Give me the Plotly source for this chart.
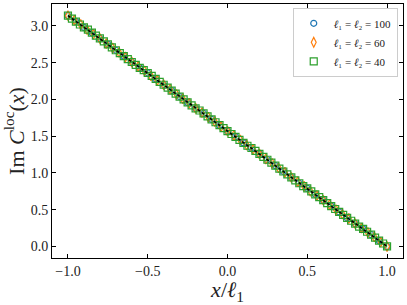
import plotly.graph_objects as go

# l1 = l2 = 100 (blue circles)
x_100 = [-1.0, -0.95, -0.9, -0.85, -0.8, -0.75, -0.7, -0.65, -0.6, -0.55, -0.5, -0.45, -0.4, -0.35,
         -0.3, -0.25, -0.2, -0.15, -0.1, -0.05, 0.0, 0.05, 0.1, 0.15, 0.2, 0.25, 0.3, 0.35, 0.4,
         0.45, 0.5, 0.55, 0.6, 0.65, 0.7, 0.75, 0.8, 0.85, 0.9, 0.95, 1.0]
y_100 = [3.14, 3.06, 2.98, 2.91, 2.83, 2.75, 2.67, 2.59, 2.51, 2.43, 2.36, 2.28, 2.20, 2.12,
         2.04, 1.96, 1.88, 1.81, 1.73, 1.65, 1.57, 1.49, 1.41, 1.34, 1.26, 1.18, 1.10, 1.02, 0.94,
         0.86, 0.79, 0.71, 0.63, 0.55, 0.47, 0.39, 0.31, 0.24, 0.16, 0.08, 0.00]

# l1 = l2 = 60 (orange diamonds)
x_60 = [-1.0, -0.96, -0.92, -0.88, -0.84, -0.8, -0.76, -0.72, -0.68, -0.64, -0.6, -0.56, -0.52,
        -0.48, -0.44, -0.4, -0.36, -0.32, -0.28, -0.24, -0.2, -0.16, -0.12, -0.08, -0.04, 0.0,
        0.04, 0.08, 0.12, 0.16, 0.2, 0.24, 0.28, 0.32, 0.36, 0.4, 0.44, 0.48, 0.52, 0.56, 0.6,
        0.64, 0.68, 0.72, 0.76, 0.8, 0.84, 0.88, 0.92, 0.96, 1.0]
y_60 = [3.14, 3.08, 3.02, 2.95, 2.89, 2.83, 2.76, 2.70, 2.64, 2.58, 2.51, 2.45, 2.39, 2.32,
        2.26, 2.20, 2.14, 2.07, 2.01, 1.95, 1.88, 1.82, 1.76, 1.70, 1.63, 1.57, 1.51, 1.45,
        1.38, 1.32, 1.26, 1.19, 1.13, 1.07, 1.01, 0.94, 0.88, 0.82, 0.75, 0.69, 0.63, 0.57,
        0.50, 0.44, 0.38, 0.31, 0.25, 0.19, 0.13, 0.06, 0.00]

# l1 = l2 = 40 (green squares)
x_40 = [-1.0, -0.975, -0.95, -0.925, -0.9, -0.875, -0.85, -0.825, -0.8, -0.775, -0.75, -0.725,
        -0.7, -0.675, -0.65, -0.625, -0.6, -0.575, -0.55, -0.525, -0.5, -0.475, -0.45, -0.425,
        -0.4, -0.375, -0.35, -0.325, -0.3, -0.275, -0.25, -0.225, -0.2, -0.175, -0.15, -0.125,
        -0.1, -0.075, -0.05, -0.025, 0.0, 0.025, 0.05, 0.075, 0.1, 0.125, 0.15, 0.175, 0.2,
        0.225, 0.25, 0.275, 0.3, 0.325, 0.35, 0.375, 0.4, 0.425, 0.45, 0.475, 0.5, 0.525, 0.55,
        0.575, 0.6, 0.625, 0.65, 0.675, 0.7, 0.725, 0.75, 0.775, 0.8, 0.825, 0.85, 0.875, 0.9,
        0.925, 0.95, 0.975, 1.0]
y_40 = [3.14, 3.10, 3.06, 3.02, 2.98, 2.95, 2.91, 2.87, 2.83, 2.79, 2.75, 2.71, 2.67, 2.63,
        2.59, 2.55, 2.51, 2.47, 2.43, 2.40, 2.36, 2.32, 2.28, 2.24, 2.20, 2.16, 2.12, 2.08,
        2.04, 2.00, 1.96, 1.92, 1.88, 1.85, 1.81, 1.77, 1.73, 1.69, 1.65, 1.61, 1.57, 1.53,
        1.49, 1.45, 1.41, 1.37, 1.34, 1.30, 1.26, 1.22, 1.18, 1.14, 1.10, 1.06, 1.02, 0.98,
        0.94, 0.90, 0.86, 0.82, 0.79, 0.75, 0.71, 0.67, 0.63, 0.59, 0.55, 0.51, 0.47, 0.43,
        0.39, 0.35, 0.31, 0.27, 0.24, 0.20, 0.16, 0.12, 0.08, 0.04, 0.00]

# exact (dashed)
x_exact = [-1.0, 1.0]
y_exact = [3.1416, 0.0]

x_ticks = [-1.0, -0.5, 0.0, 0.5, 1.0]
y_ticks = [0.0, 0.5, 1.0, 1.5, 2.0, 2.5, 3.0]

FONT = "Liberation Serif"

fig = go.Figure()
fig.add_trace(go.Scatter(
    x=x_100, y=y_100, mode="markers", name="<i>ℓ</i>₁ = <i>ℓ</i>₂ = 100",
    marker=dict(symbol="circle-open", size=6, color="#1f77b4", line=dict(width=1.2))))
fig.add_trace(go.Scatter(
    x=x_60, y=y_60, mode="markers", name="<i>ℓ</i>₁ = <i>ℓ</i>₂ = 60",
    marker=dict(symbol="diamond-tall-open", size=7, color="#ff7f0e", line=dict(width=1.2))))
fig.add_trace(go.Scatter(
    x=x_40, y=y_40, mode="markers", name="<i>ℓ</i>₁ = <i>ℓ</i>₂ = 40",
    marker=dict(symbol="square-open", size=7, color="#2ca02c", line=dict(width=1.2))))
fig.add_trace(go.Scatter(
    x=x_exact, y=y_exact, mode="lines", showlegend=False,
    line=dict(color="black", width=1.6, dash="3px,2px")))

axis_common = dict(
    showgrid=False, zeroline=False, showline=True, linecolor="black", linewidth=1,
    mirror="ticks", ticks="inside", ticklen=4, tickwidth=1, tickcolor="black",
    tickfont=dict(family=FONT, size=14, color="#222"), automargin=False,
)
fig.update_xaxes(range=[-1.1, 1.1], tickvals=x_ticks, ticktext=["−1.0", "−0.5", "0.0", "0.5", "1.0"],
                 title=dict(text="<i>x</i>/<i>ℓ</i><sub>1</sub>", font=dict(family=FONT, size=22, color="#222"),
                            standoff=0),
                 **axis_common)
fig.update_yaxes(range=[-0.157, 3.299], tickvals=y_ticks, ticktext=[f"{v:.1f}" for v in y_ticks],
                 title=dict(text="Im <i>C</i><sup>loc</sup>(<i>x</i>)", font=dict(family=FONT, size=22, color="#222"),
                            standoff=0),
                 **axis_common)

fig.update_layout(
    width=407, height=305,
    margin=dict(l=52, r=4, t=4, b=47),
    paper_bgcolor="white", plot_bgcolor="white",
    legend=dict(x=0.985, y=0.985, xanchor="right", yanchor="top",
                bgcolor="rgba(255,255,255,0.8)", bordercolor="#cccccc", borderwidth=1,
                font=dict(family=FONT, size=11, color="#222"),
                itemsizing="trace", tracegroupgap=0, itemwidth=30),
)

fig.write_html("out.html", config={"displayModeBar": False},
               post_script="document.body.style.margin='0';document.body.style.padding='0';")
